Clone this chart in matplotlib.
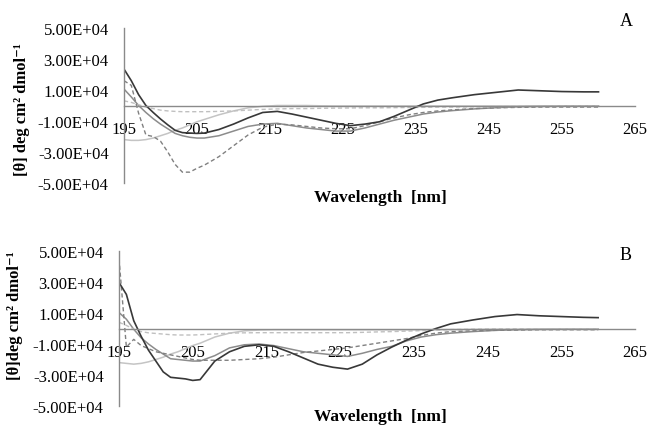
import numpy as np
import matplotlib
matplotlib.use('Agg')
import matplotlib.pyplot as plt

plt.rcParams['font.family'] = ['Liberation Serif', 'DejaVu Serif']

# wavelength grid [nm]
wl = [195, 196, 197, 198, 199, 200, 201, 202, 203, 204, 205, 206, 208, 210, 212, 214, 216, 218,
      220, 222, 224, 226, 228, 230, 232, 234, 236, 238, 240, 243, 246, 249, 252, 255, 258, 260]

# panel A, values in 1e4 deg cm2 dmol-1
a_black = [2.35, 1.6, 0.7, 0.0, -0.45, -0.87, -1.25, -1.6, -1.75, -1.78, -1.8, -1.78, -1.55, -1.2, -0.8, -0.45, -0.38, -0.55,
           -0.75, -0.95, -1.15, -1.3, -1.2, -1.05, -0.7, -0.3, 0.1, 0.35, 0.5, 0.7, 0.85, 1.0, 0.95, 0.9, 0.88, 0.88]
a_gray = [1.06, 0.55, 0.0, -0.45, -0.85, -1.2, -1.5, -1.8, -1.95, -2.05, -2.1, -2.1, -1.95, -1.65, -1.35, -1.2, -1.15, -1.3,
          -1.45, -1.55, -1.65, -1.65, -1.45, -1.2, -0.95, -0.75, -0.55, -0.42, -0.33, -0.22, -0.14, -0.08, -0.06, -0.05, -0.05, -0.05]
a_light = [-2.2, -2.25, -2.25, -2.2, -2.1, -1.95, -1.8, -1.6, -1.45, -1.25, -1.05, -0.9, -0.6, -0.35, -0.15, -0.05, 0.0, 0.0,
           0.0, -0.02, -0.03, -0.03, -0.03, -0.03, -0.03, -0.03, -0.03, -0.03, -0.03, -0.03, -0.03, -0.03, -0.03, -0.03, -0.03, -0.03]
a_dash = [1.6, 1.3, -0.5, -1.9, -2.0, -2.3, -3.0, -3.8, -4.3, -4.3, -4.05, -3.85, -3.3, -2.6, -1.9, -1.4, -1.2, -1.25,
          -1.35, -1.45, -1.5, -1.5, -1.3, -1.05, -0.8, -0.6, -0.45, -0.35, -0.28, -0.2, -0.15, -0.12, -0.1, -0.1, -0.1, -0.1]
a_dash_light = [0.3, 0.2, 0.05, -0.1, -0.2, -0.3, -0.35, -0.38, -0.4, -0.4, -0.4, -0.4, -0.38, -0.35, -0.3, -0.25, -0.22, -0.2,
                -0.2, -0.18, -0.17, -0.16, -0.15, -0.15, -0.14, -0.13, -0.12, -0.1, -0.1, -0.08, -0.07, -0.06, -0.05, -0.05, -0.05, -0.05]

# panel B
b_black = [2.97, 2.2, 0.5, -0.5, -1.4, -2.1, -2.8, -3.15, -3.2, -3.25, -3.35, -3.3, -2.1, -1.5, -1.15, -1.05, -1.15, -1.5,
           -1.9, -2.3, -2.5, -2.62, -2.3, -1.7, -1.2, -0.75, -0.35, 0.0, 0.3, 0.55, 0.77, 0.9, 0.82, 0.77, 0.72, 0.7]
b_gray = [1.03, 0.6, -0.05, -0.6, -1.0, -1.35, -1.65, -1.95, -2.0, -2.05, -2.1, -2.1, -1.75, -1.25, -1.05, -1.0, -1.1, -1.3,
          -1.5, -1.6, -1.7, -1.8, -1.6, -1.35, -1.15, -0.8, -0.55, -0.4, -0.3, -0.2, -0.12, -0.08, -0.06, -0.05, -0.05, -0.05]
b_light = [-2.2, -2.25, -2.3, -2.25, -2.15, -2.0, -1.85, -1.65, -1.5, -1.3, -1.1, -0.95, -0.55, -0.3, -0.15, -0.1, -0.08, -0.08,
           -0.08, -0.08, -0.08, -0.08, -0.08, -0.08, -0.08, -0.08, -0.08, -0.08, -0.07, -0.06, -0.05, -0.05, -0.05, -0.05, -0.05, -0.05]
b_dash = [4.5, -1.2, -0.7, -1.1, -1.3, -1.5, -1.6, -1.7, -1.8, -1.9, -2.0, -2.05, -2.05, -2.05, -2.0, -1.95, -1.85, -1.7,
          -1.55, -1.45, -1.35, -1.25, -1.1, -0.95, -0.8, -0.65, -0.45, -0.3, -0.2, -0.15, -0.12, -0.1, -0.08, -0.08, -0.08, -0.08]
b_dash_light = [0.4, 0.2, -0.05, -0.2, -0.28, -0.32, -0.36, -0.4, -0.42, -0.42, -0.42, -0.4, -0.35, -0.3, -0.28, -0.27, -0.27, -0.27,
                -0.27, -0.27, -0.27, -0.27, -0.25, -0.22, -0.2, -0.17, -0.14, -0.1, -0.07, -0.05, -0.03, -0.02, -0.02, -0.02, -0.02, -0.02]

y_ticks = [-5e4, -3e4, -1e4, 1e4, 3e4, 5e4]
x_ticks = [195, 205, 215, 225, 235, 245, 255, 265]
axis_color = '#8a8a8a'

styles = [
    ('#c4c4c4', '-', 1.1),
    ('#8c8c8c', '-', 1.1),
    ('#808080', (0, (3, 2)), 1.0),
    ('#c0c0c0', (0, (3, 2)), 1.0),
    ('#383838', '-', 1.2),
]


def draw_panel(ax, series):
    for vals, (col, ls, lw) in zip(series, styles):
        ax.plot(wl, np.array(vals) * 1e4, color=col, linestyle=ls, linewidth=lw)
    ax.set_xlim(195, 265)
    ax.set_ylim(-5e4, 5e4)
    ax.set_xticks(x_ticks)
    ax.set_yticks(y_ticks)
    ax.set_yticklabels(['{:.2E}'.format(v) for v in y_ticks])
    ax.spines['top'].set_visible(False)
    ax.spines['right'].set_visible(False)
    ax.spines['bottom'].set_position(('data', 0))
    for s in ['left', 'bottom']:
        ax.spines[s].set_color(axis_color)
        ax.spines[s].set_linewidth(1.0)
    ax.tick_params(axis='x', length=0, pad=11, labelsize=12)
    ax.tick_params(axis='y', length=0, pad=11, labelsize=12)
    ax.patch.set_alpha(0)


fig = plt.figure(figsize=(6.5, 4.27), dpi=100)

ax_a = fig.add_axes([124 / 650, 1 - 184 / 427, 511 / 650, 155 / 427])
draw_panel(ax_a, [a_light, a_gray, a_dash, a_dash_light, a_black])
ax_b = fig.add_axes([119 / 650, 1 - 407 / 427, 516 / 650, 155 / 427])
draw_panel(ax_b, [b_light, b_gray, b_dash, b_dash_light, b_black])

fig.text(22 / 650, 1 - 110 / 427, '[θ] deg cm² dmol⁻¹', rotation=90, ha='center', va='center',
         fontsize=12, fontweight='bold')
fig.text(15 / 650, 1 - 316 / 427, '[θ]deg cm² dmol⁻¹', rotation=90, ha='center', va='center',
         fontsize=12, fontweight='bold')
fig.text(380 / 650, 1 - 198 / 427, 'Wavelength  [nm]', ha='center', va='center', fontsize=12.5, fontweight='bold')
fig.text(380 / 650, 1 - 417 / 427, 'Wavelength  [nm]', ha='center', va='center', fontsize=12.5, fontweight='bold')
fig.text(626 / 650, 1 - 22 / 427, 'A', ha='center', va='center', fontsize=13)
fig.text(626 / 650, 1 - 255 / 427, 'B', ha='center', va='center', fontsize=13)

fig.savefig('out.png', dpi=100, facecolor='white')
